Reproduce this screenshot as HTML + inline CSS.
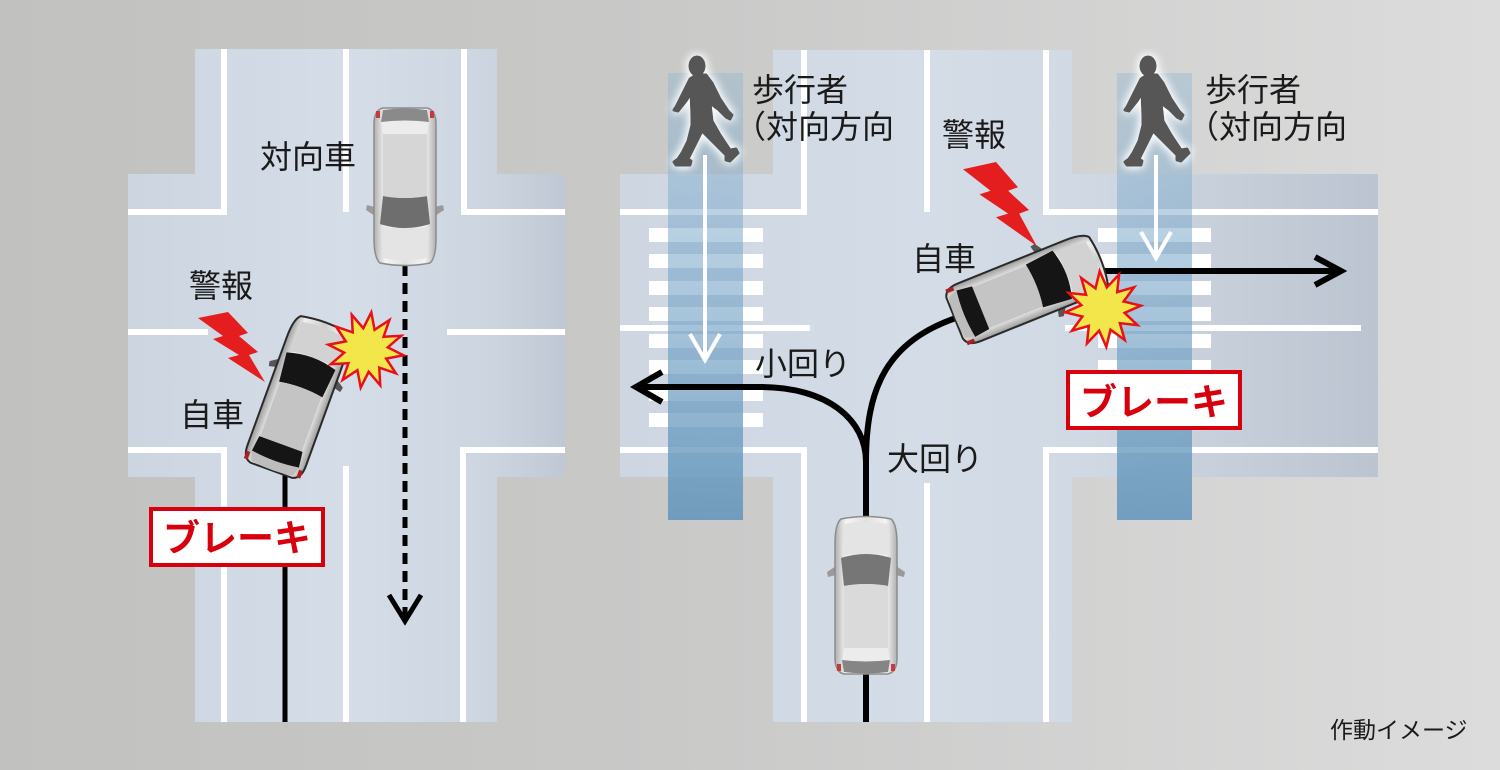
<!DOCTYPE html>
<html><head><meta charset="utf-8"><style>
html,body{margin:0;padding:0;width:1500px;height:770px;overflow:hidden;background:#c8c8c8}
svg{display:block}
text{font-family:"Liberation Sans","Noto Sans CJK JP",sans-serif;fill:#1a1a1a}
</style></head><body>
<svg width="1500" height="770" viewBox="0 0 1500 770" xmlns="http://www.w3.org/2000/svg">
<defs>
<linearGradient id="bg" x1="0" y1="0" x2="1500" y2="0" gradientUnits="userSpaceOnUse">
<stop offset="0" stop-color="#c1c1bf"/><stop offset="0.45" stop-color="#c9c9c8"/><stop offset="1" stop-color="#dcdcdc"/>
</linearGradient>
<linearGradient id="roadL" x1="128" y1="0" x2="565" y2="0" gradientUnits="userSpaceOnUse">
<stop offset="0" stop-color="#ccd5e0"/><stop offset="0.5" stop-color="#d5dde8"/><stop offset="0.82" stop-color="#cdd5e0"/><stop offset="1" stop-color="#bfc8d4"/>
</linearGradient>
<linearGradient id="roadR" x1="620" y1="0" x2="1378" y2="0" gradientUnits="userSpaceOnUse">
<stop offset="0" stop-color="#cdd6e1"/><stop offset="0.4" stop-color="#d4dce7"/><stop offset="0.6" stop-color="#d1d9e4"/><stop offset="1" stop-color="#bbc4d0"/>
</linearGradient>
<linearGradient id="band" x1="0" y1="73" x2="0" y2="520" gradientUnits="userSpaceOnUse">
<stop offset="0" stop-color="rgb(140,180,210)" stop-opacity="0.38"/><stop offset="0.5" stop-color="rgb(120,165,200)" stop-opacity="0.62"/><stop offset="1" stop-color="rgb(100,150,188)" stop-opacity="0.88"/>
</linearGradient>
<linearGradient id="silver" x1="0" y1="0" x2="1" y2="0">
<stop offset="0" stop-color="#9a9a9a"/><stop offset="0.18" stop-color="#efefef"/><stop offset="0.5" stop-color="#cfcfcf"/><stop offset="0.82" stop-color="#efefef"/><stop offset="1" stop-color="#9a9a9a"/>
</linearGradient>
<linearGradient id="silverL" x1="0" y1="0" x2="1" y2="0">
<stop offset="0" stop-color="#b0b0b0"/><stop offset="0.18" stop-color="#f4f4f4"/><stop offset="0.5" stop-color="#e0e0e0"/><stop offset="0.82" stop-color="#f4f4f4"/><stop offset="1" stop-color="#b0b0b0"/>
</linearGradient>
<filter id="glow" x="-60%" y="-40%" width="220%" height="180%">
<feGaussianBlur in="SourceAlpha" stdDeviation="5" result="b"/>
<feFlood flood-color="#ffffff"/>
<feComposite in2="b" operator="in" result="g"/>
<feMerge><feMergeNode in="g"/><feMergeNode in="g"/><feMergeNode in="SourceGraphic"/></feMerge>
</filter>
</defs>

<rect x="0" y="0" width="1500" height="770" fill="url(#bg)"/>

<g fill="url(#roadL)">
<rect x="195" y="49" width="302" height="673"/>
<rect x="128" y="174" width="437" height="303"/>
</g>
<g fill="url(#roadR)">
<rect x="773" y="50" width="299" height="672"/>
<rect x="620" y="174" width="758" height="303"/>
</g>

<g stroke="#ffffff" stroke-width="6" fill="none">
<path d="M224,49 V212 H128"/>
<path d="M346,49 V212"/>
<path d="M464,49 V212 H565"/>
<path d="M128,332 H208"/>
<path d="M447,332 H565"/>
<path d="M128,450 H224 V722"/>
<path d="M463,722 V450 H565"/>
<path d="M346,466 V722"/>
<path d="M804,50 V212 H620"/>
<path d="M927,50 V212"/>
<path d="M1046,50 V212 H1378"/>
<path d="M620,328 H810"/>
<path d="M1065,328 H1361"/>
<path d="M620,450 H804 V722"/>
<path d="M927,483 V722"/>
<path d="M1046,722 V450 H1378"/>
</g>

<g fill="#ffffff">
<rect x="649" y="228" width="114" height="14"/>
<rect x="649" y="254" width="114" height="14"/>
<rect x="649" y="281" width="114" height="14"/>
<rect x="649" y="307" width="114" height="14"/>
<rect x="649" y="334" width="114" height="14"/>
<rect x="649" y="360" width="114" height="14"/>
<rect x="649" y="387" width="114" height="14"/>
<rect x="649" y="413" width="114" height="14"/>
<rect x="1098" y="228" width="113" height="14"/>
<rect x="1098" y="254" width="113" height="14"/>
<rect x="1098" y="281" width="113" height="14"/>
<rect x="1098" y="307" width="113" height="14"/>
<rect x="1098" y="334" width="113" height="14"/>
<rect x="1098" y="360" width="113" height="14"/>
<rect x="1098" y="387" width="113" height="14"/>
<rect x="1098" y="413" width="113" height="14"/>
</g>

<rect x="668" y="73" width="75" height="447" fill="url(#band)"/>
<rect x="1117" y="73" width="75" height="447" fill="url(#band)"/>

<g stroke="#ffffff" stroke-width="4" fill="none">
<path d="M705,155 V359"/>
<polyline points="690,334 705,360 720,334"/>
<path d="M1156,155 V256"/>
<polyline points="1141,232 1156,258 1171,232"/>
</g>

<g fill="#565656" stroke="#565656" stroke-width="3" stroke-linejoin="round" filter="url(#glow)">
<g transform="translate(674,55)">
<ellipse cx="23" cy="11" rx="7" ry="9"/>
<polygon points="16,24 8,40 2,52 0,55 4,56 12,46 17,38 18,62 18,70 14,86 8,98 4,104 0,107 2,110 16,110 17,106 14,104 20,92 28,76 40,88 52,100 52,105 56,106 64,98 62,94 56,95 46,80 38,66 36,48 44,54 52,62 56,64 58,60 54,56 46,44 38,28 32,20 22,20"/>
</g>
<g transform="translate(1125,55)">
<ellipse cx="23" cy="11" rx="7" ry="9"/>
<polygon points="16,24 8,40 2,52 0,55 4,56 12,46 17,38 18,62 18,70 14,86 8,98 4,104 0,107 2,110 16,110 17,106 14,104 20,92 28,76 40,88 52,100 52,105 56,106 64,98 62,94 56,95 46,80 38,66 36,48 44,54 52,62 56,64 58,60 54,56 46,44 38,28 32,20 22,20"/>
</g>
</g>

<g stroke="#000" fill="none">
<path d="M285,470 V722" stroke-width="5"/>
<path d="M405,265 V616" stroke-width="5" stroke-dasharray="11 7"/>
<polyline points="389,595 405,621 421,595" stroke-width="5"/>
<path d="M866,722 V462 C866,420 828,387 760,387 H636" stroke-width="6"/>
<polyline points="662,372 636,387 662,402" stroke-width="6"/>
<path d="M866,462 C866,390 885,340 962,316" stroke-width="6"/>
<path d="M1095,271 H1338" stroke-width="6"/>
<polyline points="1315,257 1341,271 1315,285" stroke-width="6"/>
</g>

<g transform="translate(405,186) rotate(180)">
<path d="M-30,-30 L-39,-24 L-38,-19 L-30,-21Z" fill="#9a9a9a"/>
<path d="M30,-30 L39,-24 L38,-19 L30,-21Z" fill="#9a9a9a"/>
<path d="M-25,-77 Q0,-82 25,-77 Q31,-72 31,-52 L31,62 Q31,76 22,78 L-22,78 Q-31,76 -31,62 L-31,-52 Q-31,-72 -25,-77Z" fill="url(#silverL)" stroke="#8c8c8c" stroke-width="1.5"/>
<path d="M-22,-72 Q0,-76 22,-72 L24,-40 Q0,-46 -24,-40Z" fill="#e4e4e4"/>
<path d="M-25,-38 Q0,-46 25,-38 L22,-10 Q0,-14 -22,-10Z" fill="#6e6e6e"/>
<path d="M-22,-10 Q0,-14 22,-10 L22,52 L-22,52Z" fill="#d6d6d6"/>
<path d="M-22,52 L22,52 L24,64 Q0,67 -24,64Z" fill="#ececec"/>
<path d="M-24,64 Q0,67 24,64 L22,76 Q0,79 -22,76Z" fill="#8a8a8a"/>
<rect x="-29" y="68" width="4" height="7" fill="#c8393b"/>
<rect x="25" y="68" width="4" height="7" fill="#c8393b"/>
</g>

<g transform="translate(866,596)">
<path d="M-30,-30 L-39,-24 L-38,-19 L-30,-21Z" fill="#9a9a9a"/>
<path d="M30,-30 L39,-24 L38,-19 L30,-21Z" fill="#9a9a9a"/>
<path d="M-25,-77 Q0,-82 25,-77 Q31,-72 31,-52 L31,62 Q31,76 22,78 L-22,78 Q-31,76 -31,62 L-31,-52 Q-31,-72 -25,-77Z" fill="url(#silverL)" stroke="#8c8c8c" stroke-width="1.5"/>
<path d="M-22,-72 Q0,-76 22,-72 L24,-40 Q0,-46 -24,-40Z" fill="#e4e4e4"/>
<path d="M-25,-38 Q0,-46 25,-38 L22,-10 Q0,-14 -22,-10Z" fill="#767676"/>
<path d="M-22,-10 Q0,-14 22,-10 L22,52 L-22,52Z" fill="#dadada"/>
<path d="M-22,52 L22,52 L24,64 Q0,67 -24,64Z" fill="#ececec"/>
<path d="M-24,64 Q0,67 24,64 L22,76 Q0,79 -22,76Z" fill="#858585"/>
<rect x="-29" y="68" width="4" height="7" fill="#c8393b"/>
<rect x="25" y="68" width="4" height="7" fill="#c8393b"/>
</g>

<g transform="translate(298,397) rotate(20)">
<path d="M-30,-30 L-39,-24 L-38,-19 L-30,-21Z" fill="#555"/>
<path d="M30,-30 L39,-24 L38,-19 L30,-21Z" fill="#555"/>
<path d="M-25,-77 Q0,-82 25,-77 Q31,-72 31,-52 L31,62 Q31,76 22,78 L-22,78 Q-31,76 -31,62 L-31,-52 Q-31,-72 -25,-77Z" fill="url(#silver)" stroke="#2a2a2a" stroke-width="2"/>
<path d="M-22,-72 Q0,-76 22,-72 L24,-40 Q0,-46 -24,-40Z" fill="#d2d2d2"/>
<path d="M-26,-38 Q0,-46 26,-38 L23,-8 Q0,-12 -23,-8Z" fill="#151515"/>
<path d="M-22,-8 Q0,-12 22,-8 L22,50 L-22,50Z" fill="#c4c4c4"/>
<path d="M-23,50 L23,50 L25,66 Q0,70 -25,66Z" fill="#151515"/>
<path d="M-25,66 Q0,70 25,66 L22,76 Q0,79 -22,76Z" fill="#bdbdbd"/>
<rect x="-30" y="68" width="4" height="8" fill="#a82022"/>
<rect x="26" y="68" width="4" height="8" fill="#a82022"/>
</g>

<g transform="translate(1027,289) rotate(68)">
<path d="M-30,-30 L-39,-24 L-38,-19 L-30,-21Z" fill="#555"/>
<path d="M30,-30 L39,-24 L38,-19 L30,-21Z" fill="#555"/>
<path d="M-25,-77 Q0,-82 25,-77 Q31,-72 31,-52 L31,62 Q31,76 22,78 L-22,78 Q-31,76 -31,62 L-31,-52 Q-31,-72 -25,-77Z" fill="url(#silver)" stroke="#2a2a2a" stroke-width="2"/>
<path d="M-22,-72 Q0,-76 22,-72 L24,-40 Q0,-46 -24,-40Z" fill="#d2d2d2"/>
<path d="M-26,-38 Q0,-46 26,-38 L23,-8 Q0,-12 -23,-8Z" fill="#151515"/>
<path d="M-22,-8 Q0,-12 22,-8 L22,50 L-22,50Z" fill="#c4c4c4"/>
<path d="M-23,50 L23,50 L25,66 Q0,70 -25,66Z" fill="#151515"/>
<path d="M-25,66 Q0,70 25,66 L22,76 Q0,79 -22,76Z" fill="#bdbdbd"/>
<rect x="-30" y="68" width="4" height="8" fill="#a82022"/>
<rect x="26" y="68" width="4" height="8" fill="#a82022"/>
</g>

<g fill="#f2e64a" stroke="#e8101a" stroke-width="2.5" stroke-linejoin="miter">
<polygon transform="translate(366,350) rotate(8)" points="38,0 21.2,5.7 32.9,19 15.6,15.6 19,32.9 5.7,21.2 0,38 -5.7,21.2 -19,32.9 -15.6,15.6 -32.9,19 -21.2,5.7 -38,0 -21.2,-5.7 -32.9,-19 -15.6,-15.6 -19,-32.9 -5.7,-21.2 0,-38 5.7,-21.2 19,-32.9 15.6,-15.6 32.9,-19 21.2,-5.7"/>
<polygon transform="translate(1103,309) rotate(-5)" points="38,0 21.2,5.7 32.9,19 15.6,15.6 19,32.9 5.7,21.2 0,38 -5.7,21.2 -19,32.9 -15.6,15.6 -32.9,19 -21.2,5.7 -38,0 -21.2,-5.7 -32.9,-19 -15.6,-15.6 -19,-32.9 -5.7,-21.2 0,-38 5.7,-21.2 19,-32.9 15.6,-15.6 32.9,-19 21.2,-5.7"/>
</g>

<g fill="#e41e1e">
<polygon transform="translate(198,312)" points="0,6 30,0 50,21 41,24 60,40 51,43 67,70 30,46 41,43 15,27 25,24"/>
<polygon transform="translate(963,162) scale(1.1,1.2)" points="0,6 30,0 50,21 41,24 60,40 51,43 67,70 30,46 41,43 15,27 25,24"/>
</g>

<g font-size="32">
<text x="260" y="168">対向車</text>
<text x="189" y="297">警報</text>
<text x="180" y="426">自車</text>
<text x="752" y="101">歩行者</text>
<text x="734" y="138">（対向方向</text>
<text x="1205" y="101">歩行者</text>
<text x="1187" y="138">（対向方向</text>
<text x="942" y="146">警報</text>
<text x="912" y="270">自車</text>
<text x="755" y="375">小回り</text>
<text x="887" y="470">大回り</text>
</g>
<text x="1330" y="738" font-size="23">作動イメージ</text>

<rect x="151" y="509" width="172" height="56" fill="#ffffff" stroke="#d9000d" stroke-width="4"/>
<text x="237" y="551" font-size="37" font-weight="bold" text-anchor="middle" style="fill:#d9000d">ブレーキ</text>
<rect x="1068" y="372" width="172" height="56" fill="#ffffff" stroke="#d9000d" stroke-width="4"/>
<text x="1154" y="415" font-size="37" font-weight="bold" text-anchor="middle" style="fill:#d9000d">ブレーキ</text>
</svg>
</body></html>
